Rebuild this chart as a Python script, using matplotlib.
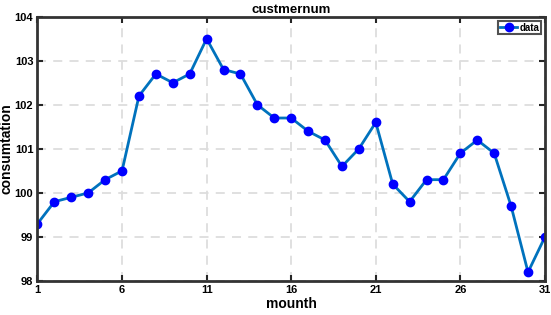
import matplotlib
matplotlib.use("Agg")
import matplotlib.pyplot as plt

days = list(range(1, 32))
values = [99.3, 99.8, 99.9, 100.0, 100.3, 100.5, 102.2, 102.7, 102.5, 102.7,
          103.5, 102.8, 102.7, 102.0, 101.7, 101.7, 101.4, 101.2, 100.6, 101.0,
          101.6, 100.2, 99.8, 100.3, 100.3, 100.9, 101.2, 100.9, 99.7, 98.2, 99.0]
xticks = [1, 6, 11, 16, 21, 26, 31]
yticks = [98, 99, 100, 101, 102, 103, 104]

plt.rcParams['font.family'] = ['Arial', 'Liberation Sans', 'DejaVu Sans']
plt.rcParams['font.weight'] = 'bold'

fig = plt.figure(figsize=(5.51, 3.15), dpi=100)
ax = fig.add_axes([0.068, 0.108, 0.921, 0.839])
ax.plot(days, values, '-o', color='#0072BD', linewidth=2, markersize=6,
        markerfacecolor='blue', markeredgecolor='blue', label='data')
ax.set_xlim(1, 31)
ax.set_ylim(98, 104)
ax.set_xticks(xticks)
ax.set_yticks(yticks)
ax.grid(True, linestyle=(0, (5, 4)), color='#dddddd', linewidth=1.3)
ax.tick_params(direction='in', top=True, right=True, length=4, width=1.5,
               labelsize=8, colors='#262626', pad=3)
for lab in ax.get_xticklabels() + ax.get_yticklabels():
    lab.set_fontweight('bold')
    lab.set_color('black')
for s in ax.spines.values():
    s.set_linewidth(2)
    s.set_color('#333333')
ax.set_xlabel('mounth', fontsize=10, fontweight='bold', labelpad=1)
ax.set_ylabel('consumtation', fontsize=10, fontweight='bold')
ax.yaxis.set_label_coords(-0.047, 0.5)
ax.set_title('custmernum', fontsize=9.5, fontweight='bold', pad=3)
leg = ax.legend(loc='upper right', fontsize=7, frameon=True, fancybox=False,
                borderpad=0.2, handlelength=1.8, handletextpad=0.2,
                borderaxespad=0.4)
leg.get_frame().set_edgecolor('#262626')
leg.get_frame().set_linewidth(1.5)
fig.savefig('out.png', dpi=100)
